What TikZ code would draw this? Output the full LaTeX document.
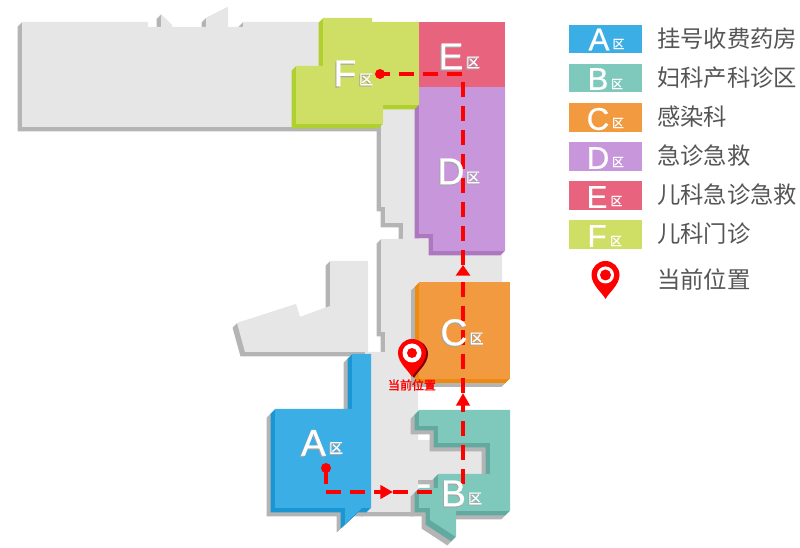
\documentclass[tikz,border=0pt]{standalone}
\usepackage{fontspec}
\setmainfont{Liberation Sans}
\newfontfamily\hv[FakeBold=0.6]{Liberation Sans}
\newfontfamily\cjk{Noto Sans CJK SC}
\newfontfamily\cjkb[FakeBold=0.5]{Noto Sans CJK SC}
\newfontfamily\cjkh[FakeBold=1.6]{Noto Sans CJK SC}
\usetikzlibrary{arrows.meta}
\definecolor{gf}{HTML}{E6E6E6}\definecolor{gd}{HTML}{B4B4B4}
\definecolor{af}{HTML}{3BAEE6}\definecolor{ad}{HTML}{1A96D2}
\definecolor{bf}{HTML}{7EC8BC}\definecolor{bd}{HTML}{62AAA0}
\definecolor{cf}{HTML}{F29A3F}\definecolor{cd}{HTML}{EE8A10}
\definecolor{df}{HTML}{C896DA}\definecolor{dd}{HTML}{AE78C0}
\definecolor{ef}{HTML}{E8637E}
\definecolor{ff}{HTML}{CFDF66}\definecolor{fd}{HTML}{B0D030}
\definecolor{txt}{HTML}{555555}
\newcommand\extr[3]{%
  \foreach \s in {0.5,1,...,4.5}{\fill[#2,shift={(-\s,\s)}] #3;}
  \fill[#1] #3;}
\newcommand\under[1]{%
  \foreach \s in {5,5.5,...,8.5}{\fill[gd,shift={(-\s,\s)}] #1;}}
\newcommand\shtxt[1]{\rlap{\raisebox{-0.9pt}{\kern-0.7pt\textcolor{gray!70}{#1}}}#1}
\newcommand\pinshape[2]{%
  \begin{scope}[shift={(#1)}]
  \fill[#2] (0,24) .. controls (-3,18) and (-14,10) .. (-14,0)
     arc[start angle=180,end angle=360,radius=14]
     .. controls (14,10) and (3,18) .. (0,24) -- cycle;
  \end{scope}}
\tikzset{
  zl/.style={text=white,font=\hv\fontsize{28}{28}\selectfont,inner sep=0pt},
  zq/.style={text=white,font=\cjkb\fontsize{10.5}{10.5}\selectfont,inner sep=0pt},
  ll/.style={text=white,font=\hv\fontsize{23.5}{24}\selectfont,inner sep=0pt},
  lq/.style={text=white,font=\cjkb\fontsize{9}{9}\selectfont,inner sep=0pt},
  lb/.style={minimum width=54.5pt,minimum height=21.5pt,inner sep=0pt,draw=none},
  lt/.style={anchor=west,text=txt,inner sep=0pt,font=\cjk\fontsize{17.5}{18}\selectfont},
  route/.style={draw=red,line width=2.3pt,dash pattern=on 11.25pt off 6.75pt},
  tip/.style={-{Triangle[length=9.5pt,width=10pt,fill=red]}},
  tipshort/.style={-{Triangle[length=8pt,width=10.5pt,fill=red]}},
}
\begin{document}
\begin{tikzpicture}[x=0.75pt,y=-0.75pt]
\useasboundingbox (0,0) rectangle (800,548);
% grey building
\extr{gf}{gd}{(22,22)--(148,22)--(148,27)--(161,27)--(161,14)--(172,25)--(172,27)--(206,27)--(206,18)--(228,7)--(228,27)--(243,27)--(243,22)--(385,22)--(385,127)--(22,127)--cycle}
\extr{gf}{gd}{(381,100)--(419,100)--(419,239)--(403,239)--(403,223)--(385,223)--(385,207)--(381,207)--cycle}
\extr{gf}{gd}{(330,261)--(368,261)--(368,352)--(245,352)--(237,323)--(296,304)--(300,317)--(330,306)--cycle}
\extr{gf}{gd}{(381,239)--(502,239)--(502,300)--(418,300)--(418,440)--(492,440)--(492,480)--(418,480)--(418,512)--(365,512)--(365,352)--(385,352)--(385,332)--(381,332)--cycle}
% zones
\under{(275,409)--(352,409)--(352,354)--(371,354)--(371,508)--(362,508)--(345,524)--(345,508)--(275,508)--cycle}
\extr{af}{ad}{(275,409)--(352,409)--(352,354)--(371,354)--(371,508)--(362,508)--(345,524)--(345,508)--(275,508)--cycle}
\under{(419,410)--(510,410)--(510,511)--(456,511)--(456,537)--(430,520)--(430,508)--(419,508)--(419,488)--(438,488)--(438,474)--(490,474)--(490,443)--(438,443)--(438,426)--(419,426)--cycle}
\extr{bf}{bd}{(419,410)--(510,410)--(510,511)--(456,511)--(456,537)--(430,520)--(430,508)--(419,508)--(419,488)--(438,488)--(438,474)--(490,474)--(490,443)--(438,443)--(438,426)--(419,426)--cycle}
\under{(419,282)--(510,282)--(510,379)--(419,379)--cycle}
\extr{cf}{cd}{(419,282)--(510,282)--(510,379)--(419,379)--cycle}
\extr{df}{dd}{(419,87)--(505,87)--(505,251)--(433,251)--(433,234)--(419,234)--cycle}
\extr{ff}{fd}{(323,18)--(372,18)--(372,22)--(419,22)--(419,105)--(383,105)--(383,124)--(296,124)--(296,66)--(323,66)--cycle}
\fill[ef] (419,22) rectangle (505,87);
% route
\coordinate (r0) at (326,468);
\coordinate (r1) at (326,484);
\coordinate (r2) at (326,492);
\coordinate (r3) at (393,492);
\coordinate (r4) at (437,492);
\coordinate (r5) at (463,484);
\coordinate (r6) at (463,393);
\coordinate (r7) at (463,265);
\coordinate (r8) at (463,74);
\coordinate (r9) at (380,74);
\draw[draw=red,line width=2.3pt] (r0)--(r1);
\fill[red] (r0) circle[radius=5];
\draw[route,tip] (r2)--(r3);
\draw[route] (r3)--(r4);
\draw[route,tip] (r5)--(r6);
\draw[route,tipshort] (r6)--(r7);
\draw[route] (r7)--(r8)--(r9);
\fill[red] (r9) circle[radius=5];
% zone labels
\node[zl] (la) at (313.5,443.5) {\shtxt{A}};
\node[zq] (qa) at (336,448.5) {\shtxt{区}};
\node[zl] (lb) at (453.5,494) {\shtxt{B}};
\node[zq] (qb) at (475,499) {\shtxt{区}};
\node[zl] (lc) at (454,333) {\shtxt{C}};
\node[zq] (qc) at (476.5,339) {\shtxt{区}};
\node[zl] (ld) at (451,172) {\shtxt{D}};
\node[zq] (qd) at (473,178) {\shtxt{区}};
\node[zl] (le) at (451,57) {\shtxt{E}};
\node[zq] (qe) at (473,63) {\shtxt{区}};
\node[zl] (lf) at (345,74) {\shtxt{F}};
\node[zq] (qf) at (366,80) {\shtxt{区}};
% map pin
\coordinate (mp) at (412,353);
\coordinate (mps) at (414,354);
\pinshape{mps}{red!50!black}
\pinshape{mp}{red}
\fill[white] (mp) circle[radius=9.5];
\fill[red] (mp) circle[radius=5];
\node[text=red,inner sep=0pt,font=\cjkh\fontsize{9}{9}\selectfont] (mpl) at (412,385) {当前位置};
% legend
\node[lb,fill=af] (ba) at (605.5,39) {};
\node[lb,fill=bf] (bb) at (605.5,78) {};
\node[lb,fill=cf] (bc) at (605.5,117.5) {};
\node[lb,fill=df] (bd) at (605.5,156.5) {};
\node[lb,fill=ef] (be) at (605.5,195.5) {};
\node[lb,fill=ff] (bfz) at (605.5,234.5) {};
\node[ll] at (599,39.5) (a1) {A};\node[lq] at (618.5,44) (a2) {区};
\node[ll] at (598,79) (b1) {B};\node[lq] at (617,84) (b2) {区};
\node[ll] at (598,119) (c1) {C};\node[lq] at (618,123) (c2) {区};
\node[ll] at (598,158) (d1) {D};\node[lq] at (618,162) (d2) {区};
\node[ll] at (597,197) (e1) {E};\node[lq] at (616.5,201) (e2) {区};
\node[ll] at (597,236) (f1) {F};\node[lq] at (616,241) (f2) {区};
\node[lt] (ta) at (657,39) {挂号收费药房};
\node[lt] (tb) at (657,78) {妇科产科诊区};
\node[lt] (tc) at (657,117) {感染科};
\node[lt] (td) at (657,156) {急诊急救};
\node[lt] (te) at (657,195) {儿科急诊急救};
\node[lt] (tf) at (657,234) {儿科门诊};
\coordinate (lp) at (605.5,275);
\pinshape{lp}{red}
\fill[white] (lp) circle[radius=8.5];
\fill[red] (lp) circle[radius=5.5];
\node[lt] (tg) at (657,280) {当前位置};
\end{tikzpicture}
\end{document}
